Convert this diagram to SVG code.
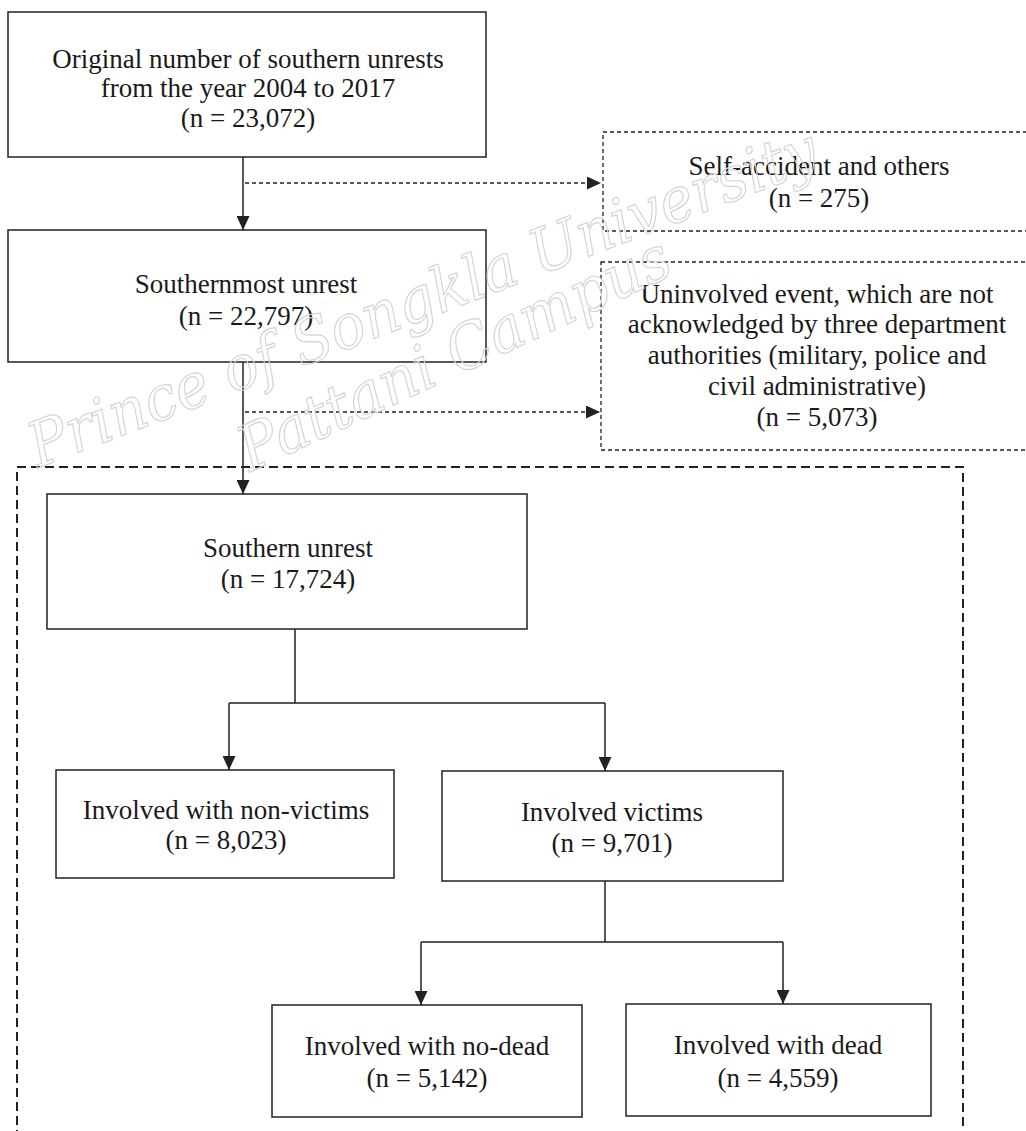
<svg xmlns="http://www.w3.org/2000/svg" width="1026" height="1131" viewBox="0 0 1026 1131">
<style>
.box{fill:#fff;stroke:#222;stroke-width:1.5}
.dbox{fill:#fff;stroke:#222;stroke-width:1.3;stroke-dasharray:4 3}
.cont{fill:none;stroke:#222;stroke-width:2;stroke-dasharray:9 5}
.ln{fill:none;stroke:#222;stroke-width:1.5}
.dl{fill:none;stroke:#222;stroke-width:1.3;stroke-dasharray:4 3}
text{font-family:"Liberation Serif","Times New Roman",serif;font-size:27px;fill:#1a1a1a;text-anchor:middle}
text.wm{font-family:"DejaVu Serif",serif;font-style:italic;font-size:62px;fill:none;stroke:#d4d4d4;stroke-width:1.2;text-anchor:start}
</style>
<defs>
<marker id="ah" viewBox="0 0 14 13" refX="14" refY="6.5" markerWidth="14" markerHeight="13" markerUnits="userSpaceOnUse" orient="auto">
<path d="M0,0 L14,6.5 L0,13 z" fill="#222"/>
</marker>
</defs>
<rect class="cont" x="17" y="467" width="946" height="720"/>
<g id="n1"><rect class="box" x="8" y="12" width="478" height="145"/>
<text x="248" y="68">Original number of southern unrests</text>
<text x="248" y="97">from the year 2004 to 2017</text>
<text x="248" y="127">(n = 23,072)</text></g>
<g id="n2"><rect class="dbox" x="603" y="132" width="440" height="99"/>
<text x="819" y="175">Self-accident and others</text>
<text x="819" y="207">(n = 275)</text></g>
<g id="n3"><rect class="box" x="8" y="230" width="478" height="132"/>
<text x="246" y="293">Southernmost unrest</text>
<text x="246" y="325">(n = 22,797)</text></g>
<g id="n4"><rect class="dbox" x="601" y="262" width="440" height="188"/>
<text x="817" y="303">Uninvolved event, which are not</text>
<text x="817" y="333">acknowledged by three department</text>
<text x="817" y="364">authorities (military, police and</text>
<text x="817" y="395">civil administrative)</text>
<text x="817" y="426">(n = 5,073)</text></g>
<g id="n5"><rect class="box" x="47" y="494" width="480" height="135"/>
<text x="288" y="557">Southern unrest</text>
<text x="288" y="588">(n = 17,724)</text></g>
<g id="n6"><rect class="box" x="56" y="770" width="338" height="108"/>
<text x="226" y="819">Involved with non-victims</text>
<text x="226" y="849">(n = 8,023)</text></g>
<g id="n7"><rect class="box" x="442" y="771" width="341" height="110"/>
<text x="612" y="821">Involved victims</text>
<text x="612" y="852">(n = 9,701)</text></g>
<g id="n8"><rect class="box" x="272" y="1005" width="310" height="112"/>
<text x="427" y="1055">Involved with no-dead</text>
<text x="427" y="1087">(n = 5,142)</text></g>
<g id="n9"><rect class="box" x="626" y="1004" width="305" height="112"/>
<text x="778" y="1054">Involved with dead</text>
<text x="778" y="1087">(n = 4,559)</text></g>
<g id="connectors">
<path class="ln" d="M243,157 V230" marker-end="url(#ah)"/>
<path class="dl" d="M245,183 H601" marker-end="url(#ah)"/>
<path class="ln" d="M243,362 V494" marker-end="url(#ah)"/>
<path class="dl" d="M245,412 H600" marker-end="url(#ah)"/>
<path class="ln" d="M295,629 V703 M229,703 H605"/>
<path class="ln" d="M229,703 V770" marker-end="url(#ah)"/>
<path class="ln" d="M605,703 V771" marker-end="url(#ah)"/>
<path class="ln" d="M605,881 V942 M421,942 H783"/>
<path class="ln" d="M421,942 V1005" marker-end="url(#ah)"/>
<path class="ln" d="M783,942 V1004" marker-end="url(#ah)"/>
</g>
<g id="watermark">
<text class="wm" x="38" y="468" transform="rotate(-21 38 468)" textLength="840" lengthAdjust="spacingAndGlyphs">Prince of Songkla University</text>
<text class="wm" x="250" y="472" transform="rotate(-25 250 472)" textLength="470" lengthAdjust="spacingAndGlyphs">Pattani Campus</text>
</g>
</svg>
